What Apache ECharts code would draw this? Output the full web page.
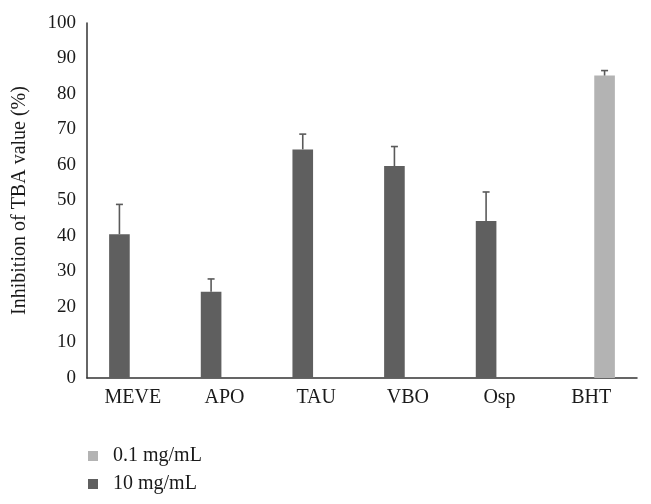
<!DOCTYPE html>
<html>
<head>
<meta charset="utf-8">
<script src="https://cdn.jsdelivr.net/npm/echarts@6/dist/echarts.min.js"></script>
<style>
html,body{margin:0;padding:0;background:#fff;}
#chart{width:651px;height:504px;}
</style>
</head>
<body>
<div id="chart"></div>
<script>
var categories = ['MEVE', 'APO', 'TAU', 'VBO', 'Osp', 'BHT'];
var tenMg = [40.5, 24.3, 64.4, 59.7, 44.2, null];
var tenMgErr = [8.4, 3.6, 4.3, 5.5, 8.2, null];
var pointOneMg = [null, null, null, null, null, 85.2];
var pointOneMgErr = [null, null, null, null, null, 1.4];
var yTicks = [0, 10, 20, 30, 40, 50, 60, 70, 80, 90, 100];

var BAR_FRAC = 0.225;
var GAP_FRAC = 0.3;
var FONT = '"Liberation Serif", "DejaVu Serif", serif';

function errData(vals, errs) {
  var out = [];
  for (var i = 0; i < vals.length; i++) {
    if (vals[i] != null && errs[i] != null) out.push([i, vals[i], vals[i] + errs[i]]);
  }
  return out;
}

function makeErrRender(slot) {
  return function (params, api) {
    var band = api.size([1, 0])[0];
    var bw = band * BAR_FRAC;
    var off = (bw + bw * GAP_FRAC) / 2 * (slot === 0 ? -1 : 1);
    var lo = api.coord([api.value(0), api.value(1)]);
    var hi = api.coord([api.value(0), api.value(2)]);
    var x = lo[0] + off;
    var cap = 3.5;
    var st = { stroke: '#5a5a5a', lineWidth: 1.6 };
    return {
      type: 'group',
      children: [
        { type: 'line', shape: { x1: x, y1: lo[1], x2: x, y2: hi[1] }, style: st },
        { type: 'line', shape: { x1: x - cap, y1: hi[1], x2: x + cap, y2: hi[1] }, style: st }
      ]
    };
  };
}

var chart = echarts.init(document.getElementById('chart'), null, { renderer: 'canvas' });
chart.setOption({
  animation: false,
  backgroundColor: '#ffffff',
  textStyle: { fontFamily: FONT },
  grid: { left: 87, right: 14, top: 23, bottom: 126, containLabel: false },
  legend: {
    orient: 'vertical',
    left: 83,
    top: 441,
    icon: 'rect',
    itemWidth: 10,
    itemHeight: 10,
    itemGap: 8,
    data: ['0.1 mg/mL', '10 mg/mL'],
    textStyle: { fontFamily: FONT, fontSize: 20, color: '#1a1a1a', padding: [0, 0, 0, 10] }
  },
  xAxis: {
    type: 'category',
    data: categories,
    axisLine: { show: true, lineStyle: { color: '#333333', width: 1.5 } },
    axisTick: { show: false },
    axisLabel: { fontFamily: FONT, fontSize: 20, color: '#1a1a1a', margin: 10 },
    splitLine: { show: false }
  },
  yAxis: {
    type: 'value',
    min: yTicks[0],
    max: yTicks[yTicks.length - 1],
    interval: yTicks[1] - yTicks[0],
    name: 'Inhibition of TBA value (%)',
    nameLocation: 'middle',
    nameRotate: 90,
    nameGap: 57,
    nameTextStyle: { fontFamily: FONT, fontSize: 20, color: '#1a1a1a' },
    axisLine: { show: true, lineStyle: { color: '#333333', width: 1.5 } },
    axisTick: { show: false },
    axisLabel: { fontFamily: FONT, fontSize: 19, color: '#1a1a1a', margin: 11 },
    splitLine: { show: false }
  },
  series: [
    {
      name: '10 mg/mL',
      type: 'bar',
      data: tenMg,
      barWidth: (BAR_FRAC * 100) + '%',
      barGap: (GAP_FRAC * 100) + '%',
      itemStyle: { color: '#5f5f5f' }
    },
    {
      name: '0.1 mg/mL',
      type: 'bar',
      data: pointOneMg,
      barWidth: (BAR_FRAC * 100) + '%',
      barGap: (GAP_FRAC * 100) + '%',
      itemStyle: { color: '#b3b3b3' }
    },
    {
      name: '10 mg/mL err',
      type: 'custom',
      renderItem: makeErrRender(0),
      data: errData(tenMg, tenMgErr),
      encode: { x: 0, y: [1, 2] },
      z: 3,
      silent: true
    },
    {
      name: '0.1 mg/mL err',
      type: 'custom',
      renderItem: makeErrRender(1),
      data: errData(pointOneMg, pointOneMgErr),
      encode: { x: 0, y: [1, 2] },
      z: 3,
      silent: true
    }
  ]
});
</script>
</body>
</html>
